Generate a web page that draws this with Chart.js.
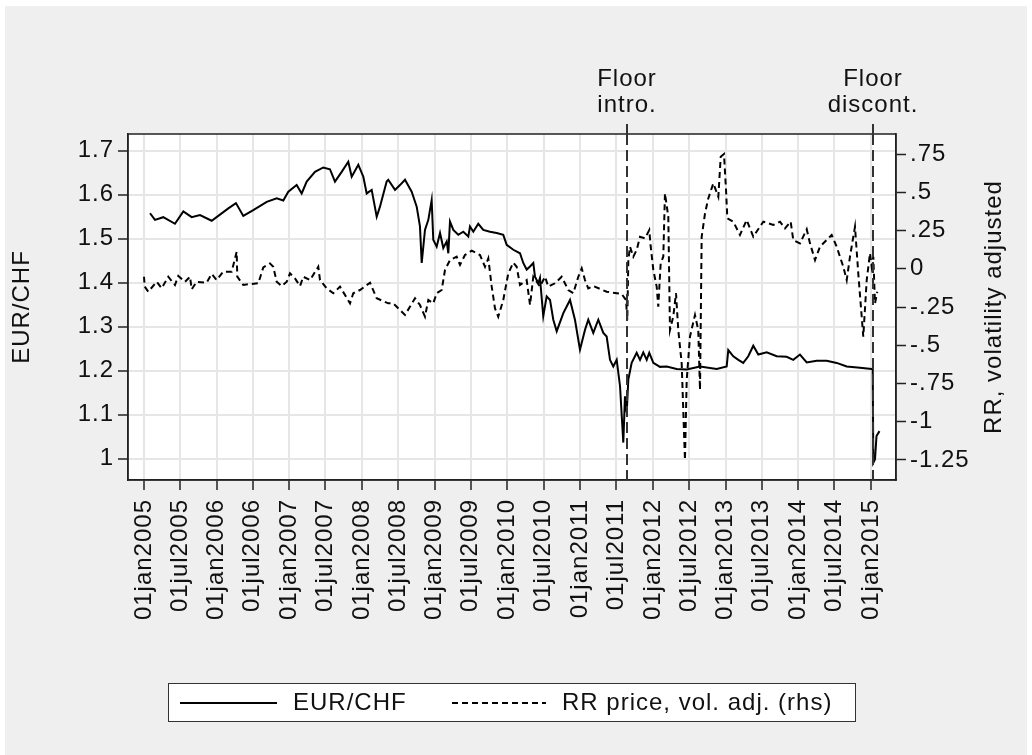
<!DOCTYPE html>
<html>
<head>
<meta charset="utf-8">
<script src="https://cdn.jsdelivr.net/npm/chart.js@4.4.0/dist/chart.umd.min.js"></script>
<style>
  html, body { margin: 0; padding: 0; background: #fff; }
  canvas { display: block; }
</style>
</head>
<body>
<canvas id="grafico" width="1032" height="755"></canvas>
<script>
// Fechas en años decimales
const eurchfFechas = [2005.083, 2005.151, 2005.265, 2005.426, 2005.541, 2005.656, 2005.770, 2005.931, 2006.022, 2006.160,
  2006.265, 2006.366, 2006.503, 2006.688, 2006.825, 2006.916, 2006.985, 2007.100, 2007.169, 2007.238,
  2007.352, 2007.466, 2007.558, 2007.627, 2007.719, 2007.810, 2007.857, 2007.948, 2008.017, 2008.063,
  2008.132, 2008.201, 2008.246, 2008.338, 2008.360, 2008.453, 2008.521, 2008.590, 2008.682, 2008.751,
  2008.796, 2008.820, 2008.865, 2008.911, 2008.957, 2008.979, 2009.026, 2009.072, 2009.117, 2009.164,
  2009.186, 2009.209, 2009.255, 2009.323, 2009.392, 2009.461, 2009.484, 2009.530, 2009.598, 2009.667,
  2009.759, 2009.851, 2009.942, 2009.989, 2010.080, 2010.172, 2010.217, 2010.264, 2010.310, 2010.355,
  2010.378, 2010.424, 2010.447, 2010.492, 2010.539, 2010.585, 2010.630, 2010.677, 2010.768, 2010.860,
  2010.928, 2010.997, 2011.066, 2011.111, 2011.180, 2011.249, 2011.318, 2011.364, 2011.410, 2011.455,
  2011.502, 2011.548, 2011.593, 2011.616, 2011.640, 2011.662, 2011.708, 2011.777, 2011.823, 2011.868,
  2011.915, 2011.950, 2012.006, 2012.098, 2012.190, 2012.327, 2012.465, 2012.648, 2012.878, 2013.015,
  2013.037, 2013.106, 2013.175, 2013.243, 2013.312, 2013.381, 2013.450, 2013.565, 2013.703, 2013.840,
  2013.931, 2014.023, 2014.116, 2014.253, 2014.391, 2014.528, 2014.666, 2014.849, 2015.010, 2015.024,
  2015.032, 2015.055, 2015.076, 2015.117];
const eurchfValores = [1.558, 1.543, 1.549, 1.534, 1.562, 1.549, 1.554, 1.541, 1.552, 1.569,
  1.581, 1.552, 1.565, 1.584, 1.592, 1.587, 1.607, 1.622, 1.603, 1.630,
  1.652, 1.662, 1.658, 1.630, 1.652, 1.675, 1.641, 1.668, 1.641, 1.603,
  1.611, 1.550, 1.573, 1.630, 1.634, 1.611, 1.622, 1.634, 1.607, 1.573,
  1.528, 1.445, 1.520, 1.543, 1.588, 1.498, 1.482, 1.513, 1.479, 1.494,
  1.467, 1.539, 1.520, 1.509, 1.516, 1.505, 1.528, 1.516, 1.534, 1.520,
  1.516, 1.513, 1.509, 1.486, 1.475, 1.467, 1.445, 1.430, 1.437, 1.445,
  1.414, 1.399, 1.411, 1.324, 1.369, 1.361, 1.316, 1.290, 1.331, 1.361,
  1.316, 1.248, 1.293, 1.316, 1.286, 1.316, 1.286, 1.278, 1.225, 1.210,
  1.225, 1.165, 1.037, 1.142, 1.105, 1.180, 1.218, 1.241, 1.225, 1.242,
  1.225, 1.241, 1.218, 1.209, 1.210, 1.204, 1.203, 1.210, 1.204, 1.210,
  1.247, 1.233, 1.225, 1.218, 1.233, 1.257, 1.237, 1.242, 1.233, 1.232,
  1.225, 1.237, 1.219, 1.223, 1.223, 1.218, 1.210, 1.207, 1.204, 1.203,
  0.991, 0.999, 1.052, 1.063];

const rrFechas = [2005.000, 2005.010, 2005.059, 2005.175, 2005.243, 2005.334, 2005.426, 2005.472, 2005.564, 2005.633,
  2005.656, 2005.725, 2005.862, 2005.931, 2006.000, 2006.091, 2006.206, 2006.275, 2006.283, 2006.366,
  2006.458, 2006.572, 2006.641, 2006.733, 2006.778, 2006.825, 2006.894, 2006.963, 2007.008, 2007.077,
  2007.146, 2007.191, 2007.283, 2007.397, 2007.421, 2007.513, 2007.604, 2007.696, 2007.834, 2007.879,
  2007.971, 2008.109, 2008.201, 2008.360, 2008.429, 2008.590, 2008.728, 2008.796, 2008.865, 2008.911,
  2008.979, 2009.026, 2009.095, 2009.140, 2009.209, 2009.301, 2009.347, 2009.415, 2009.508, 2009.622,
  2009.691, 2009.736, 2009.783, 2009.828, 2009.873, 2009.942, 2010.011, 2010.080, 2010.126, 2010.172,
  2010.264, 2010.310, 2010.355, 2010.447, 2010.516, 2010.561, 2010.653, 2010.745, 2010.836, 2010.905,
  2010.974, 2011.021, 2011.066, 2011.111, 2011.180, 2011.364, 2011.571, 2011.630, 2011.648, 2011.662,
  2011.685, 2011.731, 2011.777, 2011.823, 2011.892, 2011.950, 2011.970, 2012.006, 2012.052, 2012.074,
  2012.107, 2012.143, 2012.166, 2012.212, 2012.235, 2012.280, 2012.318, 2012.349, 2012.396, 2012.441,
  2012.465, 2012.510, 2012.579, 2012.624, 2012.648, 2012.671, 2012.717, 2012.762, 2012.831, 2012.900,
  2012.933, 2012.978, 2013.006, 2013.024, 2013.106, 2013.198, 2013.290, 2013.381, 2013.519, 2013.656,
  2013.748, 2013.817, 2013.895, 2013.931, 2014.023, 2014.116, 2014.161, 2014.230, 2014.298, 2014.459,
  2014.528, 2014.619, 2014.666, 2014.711, 2014.780, 2014.825, 2014.894, 2014.941, 2014.986, 2015.010,
  2015.032, 2015.055, 2015.087];
const rrValores = [-0.052, -0.117, -0.150, -0.085, -0.128, -0.052, -0.106, -0.047, -0.085, -0.052,
  -0.134, -0.085, -0.091, -0.034, -0.074, -0.019, -0.019, 0.111, -0.052, -0.106,
  -0.100, -0.095, 0.009, 0.035, 0.013, -0.085, -0.113, -0.085, -0.030, -0.063,
  -0.113, -0.052, -0.074, 0.013, -0.074, -0.128, -0.160, -0.117, -0.226, -0.160,
  -0.139, -0.091, -0.193, -0.226, -0.226, -0.302, -0.193, -0.237, -0.313, -0.204,
  -0.226, -0.160, -0.139, -0.008, 0.057, 0.079, 0.025, 0.090, 0.118, 0.090,
  0.013, 0.068, -0.117, -0.259, -0.313, -0.204, -0.030, 0.040, 0.013, -0.106,
  -0.074, -0.237, -0.052, -0.117, -0.052, -0.117, -0.095, -0.052, -0.139, -0.160,
  -0.052, 0.003, -0.074, -0.128, -0.113, -0.150, -0.165, -0.204, -0.335, 0.057,
  0.144, 0.079, 0.123, 0.209, 0.199, 0.253, 0.144, -0.008, -0.117, -0.248,
  0.035, 0.079, 0.493, 0.340, -0.400, -0.313, -0.160, -0.400, -0.618, -1.250,
  -0.727, -0.444, -0.302, -0.400, -0.792, 0.209, 0.362, 0.460, 0.558, 0.471,
  0.733, 0.750, 0.515, 0.330, 0.308, 0.221, 0.319, 0.210, 0.308, 0.286,
  0.308, 0.264, 0.308, 0.188, 0.166, 0.258, 0.166, 0.057, 0.144, 0.221,
  0.144, 0.013, -0.074, 0.079, 0.275, -0.030, -0.444, -0.074, 0.101, 0.013,
  0.079, -0.226, -0.150];

// Ticks de los ejes
const xTickLabels = ["01jan2005", "01jul2005", "01jan2006", "01jul2006", "01jan2007", "01jul2007",
  "01jan2008", "01jul2008", "01jan2009", "01jul2009", "01jan2010", "01jul2010", "01jan2011",
  "01jul2011", "01jan2012", "01jul2012", "01jan2013", "01jul2013", "01jan2014", "01jul2014", "01jan2015"];
const yIzqTicks = [1, 1.1, 1.2, 1.3, 1.4, 1.5, 1.6, 1.7];
const yDerTicks = [-1.25, -1, -0.75, -0.5, -0.25, 0, 0.25, 0.5, 0.75];
const yDerLabels = ["-1.25", "-1", "-.75", "-.5", "-.25", "0", ".25", ".5", ".75"];

// Líneas verticales del piso cambiario
const pisoFechas = [2011.645, 2015.033];
const pisoTextos = [["Floor", "intro."], ["Floor", "discont."]];

const tituloDerecho = "RR, volatility adjusted";

// Paso "01jul2011" a año decimal
function fechaADecimal(label) {
  const mes = label.slice(2, 5);
  const anio = parseInt(label.slice(5), 10);
  return mes === "jul" ? anio + 181 / 365 : anio;
}
const xTickValores = xTickLabels.map(fechaADecimal);

function armarPuntos(fechas, valores) {
  return fechas.map((f, i) => ({ x: f, y: valores[i] }));
}

const FUENTE = "Arial";
const TAM = 24;
const ESPACIADO = "1px";
const colorTexto = "#111";
const colorGrilla = "#e6e6e6";
const colorMarco = "#222";

// Fondo gris, área del gráfico blanca y espaciado de letras
const fondoPlugin = {
  id: "fondo",
  beforeDraw(chart) {
    const ctx = chart.ctx;
    const a = chart.chartArea;
    ctx.save();
    ctx.fillStyle = "#fff";
    ctx.fillRect(0, 0, chart.width, chart.height);
    ctx.fillStyle = "#efefef";
    ctx.fillRect(5, 6, chart.width - 10, chart.height - 6);
    ctx.fillStyle = "#fff";
    ctx.fillRect(a.left, a.top, a.right - a.left, a.bottom - a.top);
    ctx.restore();
    ctx.letterSpacing = ESPACIADO;
  }
};

// Marco, líneas del piso, título derecho y leyenda
const extrasPlugin = {
  id: "extras",
  afterDatasetsDraw(chart) {
    const ctx = chart.ctx;
    const a = chart.chartArea;
    const xs = chart.scales.x;
    ctx.save();
    ctx.strokeStyle = colorMarco;
    ctx.lineWidth = 1.5;
    ctx.strokeRect(a.left, a.top, a.right - a.left, a.bottom - a.top);

    pisoFechas.forEach((f, i) => {
      const x = Math.round(xs.getPixelForValue(f));
      ctx.strokeStyle = "#333";
      ctx.lineWidth = 2;
      ctx.setLineDash([]);
      ctx.beginPath();
      ctx.moveTo(x, a.top - 10);
      ctx.lineTo(x, a.top);
      ctx.stroke();
      ctx.setLineDash([11, 5]);
      ctx.beginPath();
      ctx.moveTo(x, a.top);
      ctx.lineTo(x, a.bottom);
      ctx.stroke();

      ctx.setLineDash([]);
      ctx.letterSpacing = ESPACIADO;
      ctx.fillStyle = colorTexto;
      ctx.font = TAM + "px " + FUENTE;
      ctx.textAlign = "center";
      ctx.textBaseline = "alphabetic";
      ctx.fillText(pisoTextos[i][0], x, 86);
      ctx.fillText(pisoTextos[i][1], x, 112);
    });
    ctx.restore();
  },
  afterDraw(chart) {
    const ctx = chart.ctx;
    const a = chart.chartArea;
    ctx.save();
    ctx.letterSpacing = ESPACIADO;
    ctx.fillStyle = colorTexto;

    // Título del eje derecho, leído de abajo hacia arriba
    ctx.font = TAM + "px " + FUENTE;
    ctx.translate(994, (a.top + a.bottom) / 2);
    ctx.rotate(-Math.PI / 2);
    ctx.textAlign = "center";
    ctx.textBaseline = "middle";
    ctx.fillText(tituloDerecho, 0, 0);
    ctx.setTransform(1, 0, 0, 1, 0, 0);

    // Leyenda con caja
    ctx.fillStyle = "#fff";
    ctx.fillRect(168, 683, 688, 38);
    ctx.strokeStyle = "#333";
    ctx.lineWidth = 1;
    ctx.strokeRect(168.5, 683.5, 687, 38);

    const yLeyenda = 703;
    const muestras = [[180, 277], [452, 546]];
    chart.data.datasets.forEach((ds, i) => {
      ctx.strokeStyle = ds.borderColor;
      ctx.lineWidth = ds.borderWidth;
      ctx.setLineDash(ds.borderDash || []);
      ctx.beginPath();
      ctx.moveTo(muestras[i][0], yLeyenda);
      ctx.lineTo(muestras[i][1], yLeyenda);
      ctx.stroke();
      ctx.setLineDash([]);
      ctx.fillStyle = colorTexto;
      ctx.font = TAM + "px " + FUENTE;
      ctx.textAlign = "left";
      ctx.textBaseline = "middle";
      ctx.fillText(ds.label, muestras[i][1] + 16, yLeyenda);
    });
    ctx.restore();
  }
};

const ctx = document.getElementById("grafico").getContext("2d");
const fuenteTicks = { family: FUENTE, size: TAM };

new Chart(ctx, {
  type: "line",
  data: {
    datasets: [
      {
        label: "EUR/CHF",
        data: armarPuntos(eurchfFechas, eurchfValores),
        yAxisID: "yIzq",
        borderColor: "#000",
        borderWidth: 2,
        pointRadius: 0,
        tension: 0,
        fill: false
      },
      {
        label: "RR price, vol. adj. (rhs)",
        data: armarPuntos(rrFechas, rrValores),
        yAxisID: "yDer",
        borderColor: "#000",
        borderWidth: 2,
        borderDash: [6, 4],
        pointRadius: 0,
        tension: 0,
        fill: false
      }
    ]
  },
  options: {
    responsive: false,
    animation: false,
    devicePixelRatio: 1,
    layout: { padding: { top: 134, left: 0, right: 0, bottom: 0 } },
    plugins: {
      legend: { display: false },
      tooltip: { enabled: false }
    },
    scales: {
      x: {
        type: "linear",
        position: "bottom",
        bounds: "data",
        min: 2004.78,
        max: 2015.344,
        afterBuildTicks: (s) => { s.ticks = xTickValores.map((v) => ({ value: v })); },
        afterFit: (s) => { s.height = 275; },
        ticks: {
          autoSkip: false,
          minRotation: 90,
          maxRotation: 90,
          padding: 9,
          color: colorTexto,
          font: fuenteTicks,
          callback: (v, i) => xTickLabels[i]
        },
        grid: { color: colorGrilla, lineWidth: 2, tickColor: colorMarco, tickWidth: 1.5, tickLength: 10 },
        border: { display: true, color: colorMarco, width: 1.5 }
      },
      yIzq: {
        type: "linear",
        position: "left",
        bounds: "data",
        min: 0.952,
        max: 1.738,
        afterBuildTicks: (s) => { s.ticks = yIzqTicks.map((v) => ({ value: v })); },
        afterFit: (s) => { s.width = 128; },
        ticks: {
          padding: 4,
          color: colorTexto,
          font: fuenteTicks,
          callback: (v, i) => String(yIzqTicks[i])
        },
        grid: { color: colorGrilla, lineWidth: 2, tickColor: colorMarco, tickWidth: 1.5, tickLength: 10 },
        border: { display: true, color: colorMarco, width: 1.5 },
        title: {
          display: true,
          text: "EUR/CHF",
          color: colorTexto,
          font: fuenteTicks,
          padding: { top: 8, bottom: 0 }
        }
      },
      yDer: {
        type: "linear",
        position: "right",
        bounds: "data",
        min: -1.381,
        max: 0.881,
        afterBuildTicks: (s) => { s.ticks = yDerTicks.map((v) => ({ value: v })); },
        afterFit: (s) => { s.width = 136; },
        ticks: {
          padding: 4,
          color: colorTexto,
          font: fuenteTicks,
          callback: (v, i) => yDerLabels[i]
        },
        grid: { drawOnChartArea: false, tickColor: colorMarco, tickWidth: 1.5, tickLength: 10 },
        border: { display: true, color: colorMarco, width: 1.5 }
      }
    }
  },
  plugins: [fondoPlugin, extrasPlugin]
});
</script>
</body>
</html>
